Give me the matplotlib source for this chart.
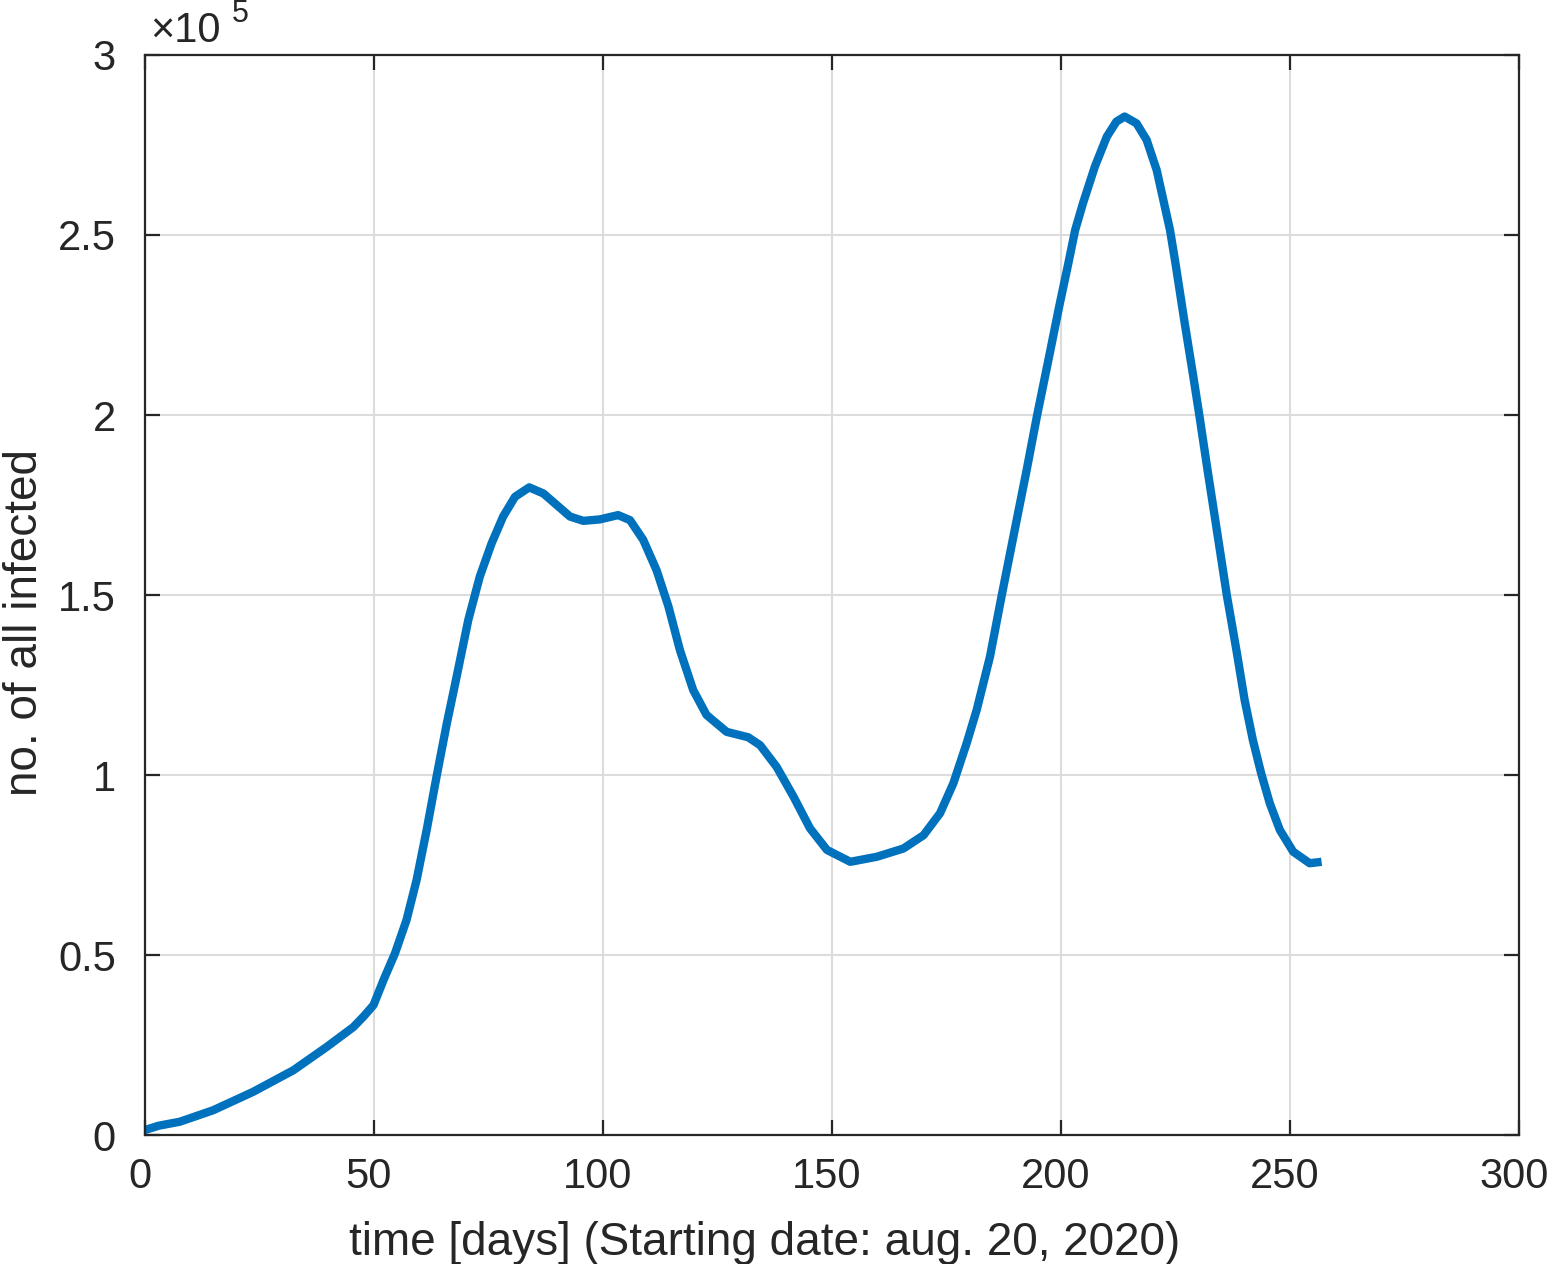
import numpy as np
import matplotlib.pyplot as plt
import matplotlib.transforms as mtransforms
from matplotlib.ticker import FuncFormatter

plt.rcParams['font.family'] = ['Liberation Sans', 'DejaVu Sans']

# values (days since start, no. of infected)
days = [0, 3, 7.6, 14.9, 23.6, 32.4, 39.7, 45.5, 47.7, 49.9, 52.1, 54.6,
        57.1, 59.3, 61.5, 63.7, 65.9, 67.9, 70.6, 73.1, 75.7, 78.2, 80.8,
        83.9, 87.0, 89.9, 92.8, 95.7, 99.3, 103.3, 105.9, 108.8, 111.7,
        114.3, 116.8, 119.7, 122.6, 127, 131.7, 134.3, 137.9, 141.6, 145.2,
        148.9, 154, 159.8, 165.6, 170, 173.6, 176.5, 179.4, 181.6, 184.5,
        187.0, 189.9, 192.5, 194.8, 197.4, 199.6, 201.6, 203.1, 204.8,
        207.4, 210, 212.1, 213.9, 216.5, 218.7, 220.9, 223.8, 225.0, 226.9,
        228.9, 230.2, 232.0, 233.8, 236.2, 238.3, 240.1, 241.9, 243.7,
        245.6, 247.8, 250.7, 254.3, 256.9]
infected = [1400, 2600, 3700, 6900, 12000, 18000, 24500, 30000, 32900,
            36100, 43100, 50500, 59700, 70800, 84700, 99800, 114300, 126400,
            143100, 155100, 164400, 171800, 177300, 179900, 178200, 175000,
            171800, 170600, 171000, 172200, 170800, 165300, 156900, 146800,
            134700, 123600, 116700, 112000, 110500, 108300, 102300, 94000,
            85200, 79200, 75900, 77300, 79600, 83300, 89400, 97700, 108800,
            118100, 132900, 149500, 168100, 184700, 200000, 216200, 230100,
            242100, 251400, 258800, 269000, 277300, 281500, 282900, 281000,
            276400, 268000, 251400, 242100, 226400, 210600, 200000, 184700,
            169900, 150000, 134700, 120800, 109700, 100500, 92100, 84700,
            78700, 75500, 75900]

xticks = [0, 50, 100, 150, 200, 250, 300]
yticks = [0, 50000, 100000, 150000, 200000, 250000, 300000]

ink = '#262626'
fig = plt.figure(figsize=(15.47, 12.64), dpi=100)
ax = fig.add_axes([0.0937, 0.102, 0.8882, 0.8545])

ax.plot(days, infected, color='#0072BD', linewidth=6,
        solid_joinstyle='round', solid_capstyle='butt')

ax.set_xlim(0, 300)
ax.set_ylim(0, 300000)
ax.set_xticks(xticks)
ax.set_yticks(yticks)
ax.yaxis.set_major_formatter(FuncFormatter(lambda v, p: '%g' % (v / 1e5)))

ax.grid(True, color='#dcdcdc', linewidth=1.5)
ax.set_axisbelow(True)
for s in ax.spines.values():
    s.set_color(ink)
    s.set_linewidth(1.6)
ax.tick_params(direction='in', length=11, width=1.6, colors=ink,
               top=True, right=True, labelsize=30)
ax.tick_params(axis='x', pad=16)
ax.tick_params(axis='y', pad=21)

# tick labels sit a little left of their ticks in the original
shift = mtransforms.ScaledTranslation(-5 / 100, 0, fig.dpi_scale_trans)
for lab in ax.get_xticklabels():
    lab.set_transform(lab.get_transform() + shift)

ax.set_xlabel('time [days] (Starting date: aug. 20, 2020)', fontsize=33,
              color=ink, labelpad=17)
ax.xaxis.label.set_x(0.451)
ax.set_ylabel('no. of all infected', fontsize=33, color=ink, labelpad=8)
ax.yaxis.label.set_y(0.475)

fig.text(0.097, 1 - 42 / 1264, '\u00d710', fontsize=30, color=ink,
         ha='left', va='baseline')
fig.text(0.150, 1 - 22 / 1264, '5', fontsize=22, color=ink,
         ha='left', va='baseline')

fig.savefig('out.png', dpi=100)
